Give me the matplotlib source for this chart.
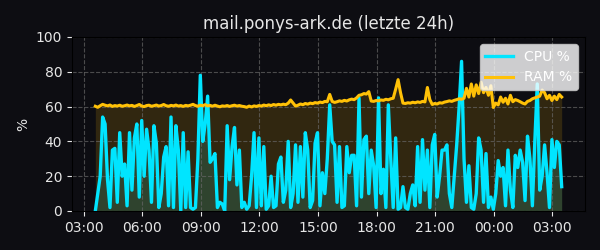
import matplotlib
matplotlib.use('Agg')
import matplotlib.pyplot as plt
import matplotlib.dates as mdates
import numpy as np
import pandas as pd

# samples every 7.5 min over the last 24h
start = '2024-05-01 03:36'
step = '450s'

cpu = [0, 10, 20, 54, 50, 18, 2, 35, 36, 5, 45, 20, 27, 3, 45, 12, 42, 50, 8, 52,
       20, 47, 35, 5, 49, 39, 2, 10, 31, 37, 3, 54, 2, 49, 35, 0, 45, 2, 34, 2,
       1, 2, 30, 78, 40, 50, 66, 28, 30, 33, 2, 5, 4, 0, 49, 18, 37, 48, 15, 35,
       2, 5, 1, 3, 20, 45, 2, 42, 3, 37, 1, 3, 20, 2, 3, 27, 31, 5, 12, 40,
       2, 10, 38, 5, 37, 8, 45, 35, 2, 6, 39, 45, 3, 22, 10, 30, 61, 40, 38, 5,
       37, 2, 3, 37, 22, 32, 32, 3, 65, 8, 41, 43, 10, 35, 26, 2, 65, 10, 24, 2,
       61, 30, 2, 42, 1, 2, 14, 2, 1, 10, 15, 3, 37, 5, 41, 12, 35, 2, 38, 44,
       8, 20, 35, 35, 38, 10, 2, 20, 38, 60, 86, 30, 5, 26, 2, 1, 10, 42, 35, 5,
       33, 2, 8, 1, 10, 29, 20, 25, 3, 35, 12, 2, 32, 25, 35, 28, 6, 43, 30, 3,
       40, 73, 12, 20, 38, 22, 2, 41, 25, 40, 38, 14]

ram = [60.2, 59.6, 60.5, 61.3, 60.8, 60.4, 60.9, 60.1, 60.6, 60.3,
       60.8, 60.2, 60.5, 60.9, 60.4, 60.7, 60.1, 60.6, 61.2, 60.3,
       60.0, 60.6, 60.8, 60.2, 60.5, 60.9, 60.3, 60.6, 61.2, 60.5,
       60.2, 60.7, 60.4, 60.9, 60.3, 60.6, 60.1, 60.7, 60.4, 60.8,
       61.3, 60.6, 60.2, 60.8, 60.5, 61.1, 60.4, 60.7, 60.2, 60.8,
       60.3, 59.9, 60.4, 60.2, 60.6, 60.1, 60.5, 60.8, 60.3, 60.6,
       60.2, 60.0, 59.6, 60.3, 59.8, 60.4, 60.1, 60.6, 60.3, 60.9,
       60.5, 61.0, 60.6, 61.2, 60.8, 61.3, 61.0, 61.4, 61.1, 62.0,
       63.8, 62.0, 60.3, 60.8, 61.5, 61.1, 61.8, 61.4, 62.0, 61.7,
       62.3, 62.0, 62.6, 62.3, 63.0, 62.8, 67.0, 63.0, 62.4, 62.8,
       63.3, 63.0, 63.6, 63.2, 63.9, 64.3, 64.0, 65.0, 66.5, 66.8,
       67.5, 67.2, 68.6, 63.2, 63.0, 63.5, 63.3, 63.8, 63.6, 64.2,
       63.9, 64.5, 64.8, 70.0, 75.5, 68.0, 62.0, 61.8, 62.2, 62.0,
       62.5, 62.2, 62.7, 62.4, 63.0, 62.7, 71.0, 64.0, 61.2, 61.8,
       61.5, 62.2, 62.0, 62.6, 62.9, 63.3, 63.0, 63.6, 64.0, 64.5,
       64.2, 64.8, 70.5, 65.5, 73.0, 66.0, 72.5, 67.5, 74.0, 68.0,
       71.0, 66.5, 72.0, 59.5, 62.0, 61.0, 65.5, 62.5, 64.8, 61.5,
       66.5, 62.8, 64.0, 63.5, 62.8, 62.0, 61.5, 63.0, 63.5, 64.5,
       65.0, 65.5, 66.0, 69.5, 68.0, 64.5, 66.5, 63.5, 66.0, 64.0,
       67.0, 65.5]

n = min(len(cpu), len(ram))
t = pd.date_range(start, periods=n, freq=step)
cpu = np.array(cpu[:n], dtype=float)
ram = np.array(ram[:n], dtype=float)

bg = '#0d0d12'
cpu_col = '#00e5ff'
ram_col = '#ffc107'

fig = plt.figure(figsize=(6, 2.5), dpi=100, facecolor=bg)
ax = fig.add_axes([0.12, 0.156, 0.855, 0.696])
ax.set_facecolor(bg)

ax.plot(t, cpu, color=cpu_col, linewidth=2.4, label='CPU %')
ax.fill_between(t, cpu, 0, color=cpu_col, alpha=0.15, linewidth=0)
ax.plot(t, ram, color=ram_col, linewidth=2.2, label='RAM %')
ax.fill_between(t, ram, 0, color=ram_col, alpha=0.15, linewidth=0)

ax.set_ylim(0, 100)
ax.set_yticks([0, 20, 40, 60, 80, 100])
ax.xaxis.set_major_locator(mdates.HourLocator(byhour=range(0, 24, 3)))
ax.xaxis.set_major_formatter(mdates.DateFormatter('%H:%M'))

ax.grid(True, linestyle='--', color='#666666', alpha=0.7, linewidth=0.8)
ax.tick_params(colors='#e6e6e6', labelsize=10)
for s in ax.spines.values():
    s.set_color('black')

ax.set_title('mail.ponys-ark.de (letzte 24h)', color='#e6e6e6', fontsize=12)
ax.set_ylabel('%', color='#e6e6e6', fontsize=10)

leg = ax.legend(loc='upper right', facecolor='white', framealpha=0.8,
                edgecolor='#cccccc', labelcolor='white', fontsize=10)

fig.savefig('out.png', dpi=100, facecolor=bg)
